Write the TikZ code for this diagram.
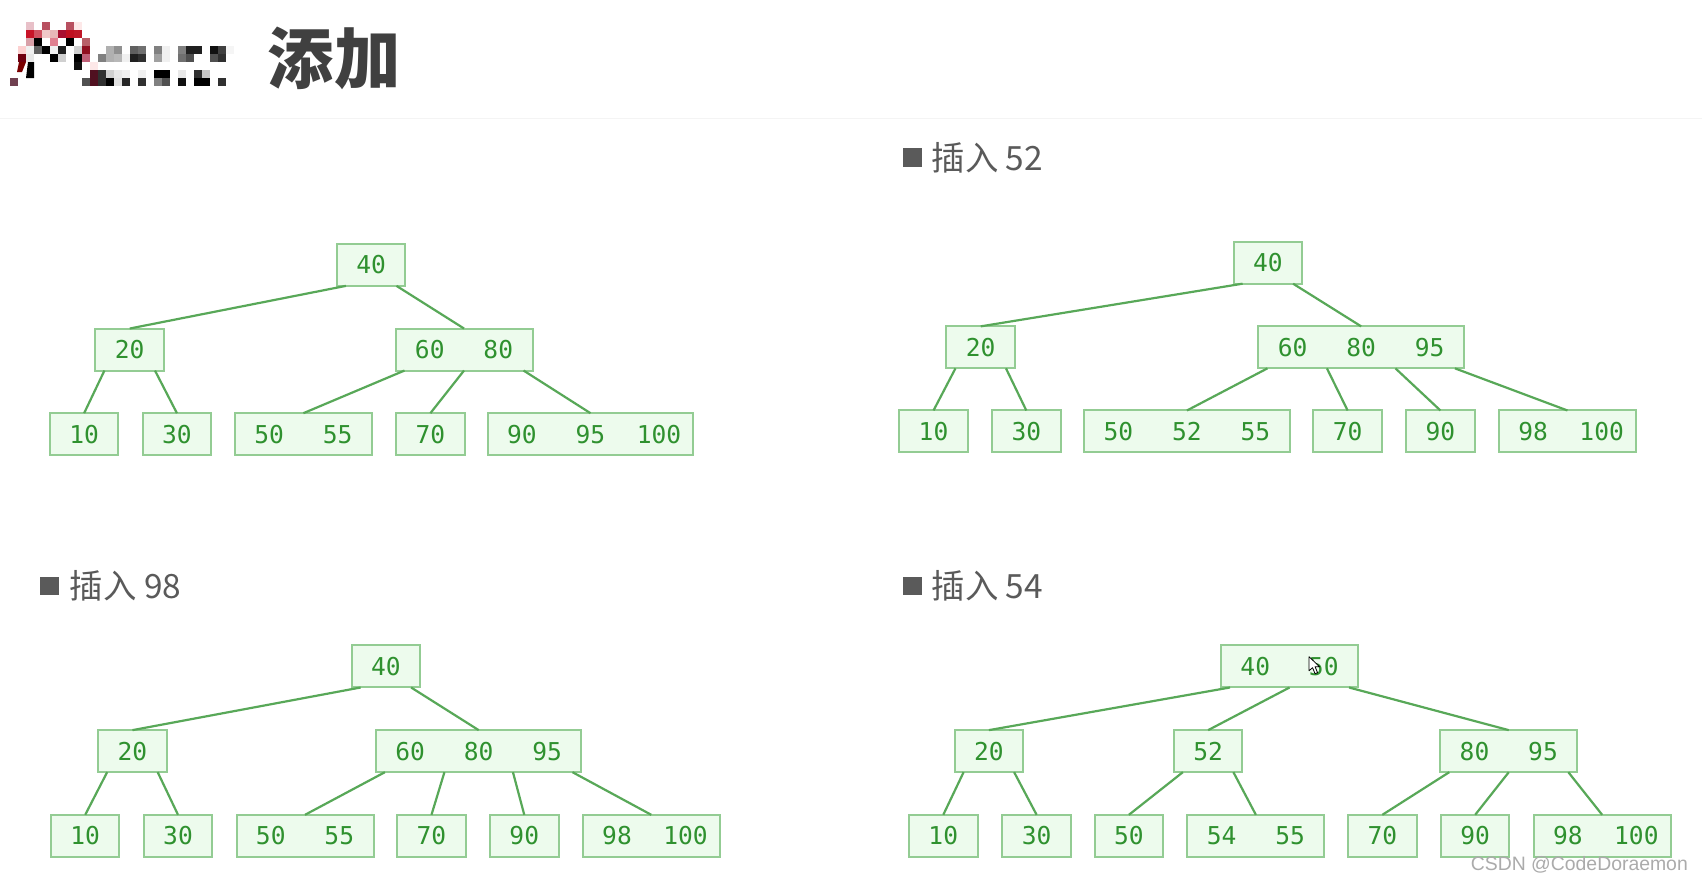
\documentclass[tikz,border=0pt]{standalone}
\usepackage{fontspec}
\setmainfont{Liberation Sans}
\newfontfamily\cjkfont{Noto Sans CJK SC}
\newfontfamily\keyfont{DejaVu Sans Mono}
\definecolor{boxfill}{HTML}{EDFBED}
\definecolor{boxline}{HTML}{93CC93}
\definecolor{edgeline}{HTML}{58A858}
\definecolor{keytext}{HTML}{2F912F}
\definecolor{headtext}{HTML}{5A5A5A}
\definecolor{titletext}{HTML}{404040}
\definecolor{ruleline}{HTML}{F4F4F4}
\definecolor{marktext}{HTML}{ABABAB}
\newcommand{\K}[1]{\makebox[34.25pt]{#1}}
\newcommand{\lk}[2]{\draw[edge] ([xshift=4.5pt]#1.south west) -- (#2.north);}
\newcommand{\rk}[2]{\draw[edge] ([xshift=-4.5pt]#1.south east) -- (#2.north);}
\newcommand{\mk}[3]{\draw[edge] ([xshift=#2*34.25pt]#1.south west) -- (#3.north);}
\newcommand{\cell}[3]{\definecolor{tmpc}{HTML}{#3}\fill[tmpc] ({10+8*#1},{22+8*#2}) rectangle +(8,8);}
\tikzset{
  keybox/.style={draw=boxline,fill=boxfill,line width=1pt,inner xsep=0pt,inner ysep=0pt,outer sep=0pt,
    minimum height=21pt,text=keytext,font=\keyfont\fontsize{12.3}{14}\selectfont},
  edge/.style={draw=edgeline,line width=1.1pt},
  heading/.style={anchor=west,inner sep=0pt,text=headtext,font=\cjkfont\fontsize{16.7}{20}\selectfont},
  marker/.style={fill=headtext,inner sep=0pt,minimum size=9.3pt}
}
\begin{document}
\begin{tikzpicture}[x=0.54273pt,y=-0.54273pt]
\useasboundingbox[fill=white] (0,0) rectangle (1568,813);
\draw[ruleline,line width=0.8pt] (0,109) -- (1568,109);
% pixelated logo
\begin{scope}[x=0.5pt,y=-0.5pt]
\cell{2}{0}{E8C0C8}\cell{4}{0}{B85060}\cell{7}{0}{B85060}\cell{8}{0}{FDE8E8}
\cell{2}{1}{C81428}\cell{3}{1}{D05060}\cell{4}{1}{F0C8C8}\cell{5}{1}{E8B8B8}\cell{6}{1}{A81030}\cell{7}{1}{C01020}\cell{8}{1}{C01828}
\cell{2}{2}{D8A0A8}\cell{3}{2}{000000}\cell{5}{2}{E08090}\cell{7}{2}{000000}\cell{9}{2}{B86068}
\cell{1}{3}{FCD0D0}\cell{2}{3}{F0F0F0}\cell{3}{3}{606060}\cell{4}{3}{000000}\cell{5}{3}{F0F0F0}\cell{6}{3}{202020}\cell{8}{3}{D0D0D0}\cell{9}{3}{901020}
\cell{12}{3}{B0B0B0}\cell{13}{3}{909090}\cell{15}{3}{606060}\cell{16}{3}{707070}\cell{18}{3}{808080}\cell{19}{3}{F0F0F0}\cell{21}{3}{808080}\cell{22}{3}{202020}\cell{23}{3}{202020}\cell{25}{3}{101010}\cell{26}{3}{404040}\cell{27}{3}{F5F5F5}
\cell{1}{4}{700010}\cell{2}{4}{E8E8E8}\cell{5}{4}{000000}\cell{6}{4}{D0D0D0}\cell{8}{4}{000000}\cell{9}{4}{C06078}
\cell{11}{4}{808080}\cell{12}{4}{B0B0B0}\cell{13}{4}{B8B8B8}\cell{14}{4}{F0F0F0}\cell{15}{4}{202020}\cell{16}{4}{303030}\cell{18}{4}{A0A0A0}\cell{19}{4}{F0F0F0}\cell{21}{4}{707070}\cell{22}{4}{505050}\cell{25}{4}{505050}\cell{26}{4}{303030}
\cell{8}{5}{101010}\cell{10}{5}{FDE8E8}
\fill[black!20!red!60!black] (19,62) -- (26,62) -- (22,72) -- (17,72) -- cycle;
\fill[black] (28,62) -- (34,62) -- (34,78) -- (26,78) -- cycle;
\cell{10}{6}{501020}\cell{11}{6}{303030}\cell{12}{6}{D0D0D0}\cell{13}{6}{E8E8E8}\cell{14}{6}{F0F0F0}\cell{16}{6}{F0F0F0}\cell{18}{6}{000000}\cell{19}{6}{000000}\cell{21}{6}{E8E8E8}\cell{23}{6}{303030}\cell{24}{6}{C8C8C8}
\cell{0}{7}{704050}\cell{9}{7}{505050}\cell{10}{7}{501020}\cell{11}{7}{303030}\cell{12}{7}{000000}\cell{13}{7}{E0E0E0}\cell{14}{7}{252525}\cell{16}{7}{303030}\cell{18}{7}{808080}\cell{19}{7}{505050}\cell{21}{7}{101010}\cell{23}{7}{000000}\cell{24}{7}{000000}\cell{26}{7}{303030}
\end{scope}
\node[inner sep=0pt,text=titletext,font=\cjkfont\bfseries\fontsize{33.2}{38}\selectfont] (title) at (308,54) {添加};
% headings
\node[marker] (m2) at (840.5,145) {};
\node[heading] (h2) at (858,145) {插入 52};
\node[marker] (m3) at (45.5,540) {};
\node[heading] (h3) at (64,540) {插入 98};
\node[marker] (m4) at (840.5,540) {};
\node[heading] (h4) at (858,540) {插入 54};
% tree 1
\node[keybox] (a40) at (342,244) {\K{40}};
\node[keybox] (a20) at (119.5,322) {\K{20}};
\node[keybox] (a60) at (427.5,322) {\K{60}\K{80}};
\node[keybox] (a10) at (77.5,400) {\K{10}};
\node[keybox] (a30) at (163,400) {\K{30}};
\node[keybox] (a50) at (279.5,400) {\K{50}\K{55}};
\node[keybox] (a70) at (396.5,400) {\K{70}};
\node[keybox] (a90) at (544,400) {\K{90}\K{95}\K{100}};
\lk{a40}{a20}\rk{a40}{a60}\lk{a20}{a10}\rk{a20}{a30}
\lk{a60}{a50}\mk{a60}{1}{a70}\rk{a60}{a90}
% tree 2
\node[keybox] (b40) at (1168,242) {\K{40}};
\node[keybox] (b20) at (903.5,320) {\K{20}};
\node[keybox] (b60) at (1254,320) {\K{60}\K{80}\K{95}};
\node[keybox] (b10) at (860,397.5) {\K{10}};
\node[keybox] (b30) at (945.5,397.5) {\K{30}};
\node[keybox] (b50) at (1093.5,397.5) {\K{50}\K{52}\K{55}};
\node[keybox] (b70) at (1241.5,397.5) {\K{70}};
\node[keybox] (b90) at (1327,397.5) {\K{90}};
\node[keybox] (b98) at (1444,397.5) {\K{98}\K{100}};
\lk{b40}{b20}\rk{b40}{b60}\lk{b20}{b10}\rk{b20}{b30}
\lk{b60}{b50}\mk{b60}{1}{b70}\mk{b60}{2}{b90}\rk{b60}{b98}
% tree 3
\node[keybox] (c40) at (355.5,614) {\K{40}};
\node[keybox] (c20) at (122,692) {\K{20}};
\node[keybox] (c60) at (441,692) {\K{60}\K{80}\K{95}};
\node[keybox] (c10) at (78.5,770) {\K{10}};
\node[keybox] (c30) at (164,770) {\K{30}};
\node[keybox] (c50) at (281,770) {\K{50}\K{55}};
\node[keybox] (c70) at (397.5,770) {\K{70}};
\node[keybox] (c90) at (483,770) {\K{90}};
\node[keybox] (c98) at (600,770) {\K{98}\K{100}};
\lk{c40}{c20}\rk{c40}{c60}\lk{c20}{c10}\rk{c20}{c30}
\lk{c60}{c50}\mk{c60}{1}{c70}\mk{c60}{2}{c90}\rk{c60}{c98}
% tree 4
\node[keybox] (d40) at (1188,614) {\K{40}\K{50}};
\node[keybox] (d20) at (911,692) {\K{20}};
\node[keybox] (d52) at (1113,692) {\K{52}};
\node[keybox] (d80) at (1390,692) {\K{80}\K{95}};
\node[keybox] (d10) at (869,770) {\K{10}};
\node[keybox] (d30) at (955,770) {\K{30}};
\node[keybox] (d50) at (1040,770) {\K{50}};
\node[keybox] (d54) at (1157,770) {\K{54}\K{55}};
\node[keybox] (d70) at (1273.5,770) {\K{70}};
\node[keybox] (d90) at (1359,770) {\K{90}};
\node[keybox] (d98) at (1476,770) {\K{98}\K{100}};
\lk{d40}{d20}\mk{d40}{1}{d52}\rk{d40}{d80}
\lk{d20}{d10}\rk{d20}{d30}\lk{d52}{d50}\rk{d52}{d54}
\lk{d80}{d70}\mk{d80}{1}{d90}\rk{d80}{d98}
% mouse pointer
\begin{scope}[shift={(1206,605)},x=0.5pt,y=-0.5pt]
\filldraw[fill=white,draw=black,line width=0.4pt,line join=round]
  (0,0) -- (0,14) -- (3.5,11) -- (6,17) -- (8.5,16) -- (6,10) -- (10.5,10) -- cycle;
\end{scope}
% watermark
\node[inner sep=0pt,text=marktext,font=\fontsize{9.7}{12}\selectfont] (wm) at (1455,797) {CSDN @CodeDoraemon};
\end{tikzpicture}
\end{document}
